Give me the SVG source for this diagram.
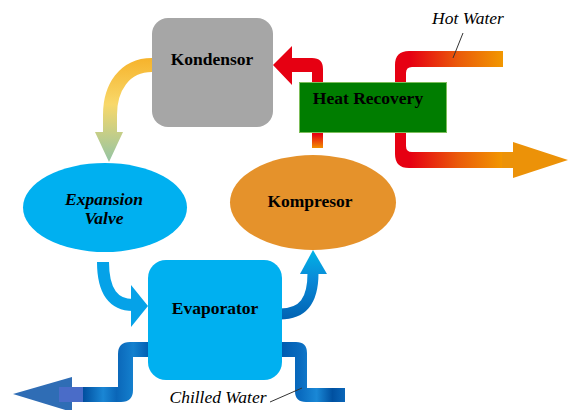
<svg xmlns="http://www.w3.org/2000/svg" width="570" height="410" viewBox="0 0 570 410">
<defs>
<style>
.lbl{font-family:"Liberation Serif","Times New Roman",serif;font-size:17.5px;fill:#000;text-anchor:middle}
.b{font-weight:bold}
.i{font-style:italic}
.lead{stroke:#333;stroke-width:1;fill:none}
</style>
<linearGradient id="gYel" gradientUnits="userSpaceOnUse" x1="0" y1="57" x2="0" y2="162">
<stop offset="0" stop-color="#F6B22A"/><stop offset="0.45" stop-color="#F8D86A"/><stop offset="1" stop-color="#93C4A4"/>
</linearGradient>
<linearGradient id="gHot" gradientUnits="userSpaceOnUse" x1="400" y1="0" x2="505" y2="0">
<stop offset="0.1" stop-color="#E60012"/><stop offset="0.55" stop-color="#EA5A0A"/><stop offset="1" stop-color="#F29A00"/>
</linearGradient>
<linearGradient id="gRed" gradientUnits="userSpaceOnUse" x1="0" y1="134" x2="0" y2="149">
<stop offset="0" stop-color="#E60012"/><stop offset="1" stop-color="#F29A00"/>
</linearGradient>
<linearGradient id="gUp" gradientUnits="userSpaceOnUse" x1="0" y1="322" x2="0" y2="250">
<stop offset="0" stop-color="#0060B0"/><stop offset="0.6" stop-color="#0A8AD8"/><stop offset="1" stop-color="#00B4E6"/>
</linearGradient>
<linearGradient id="gPipeL" gradientUnits="userSpaceOnUse" x1="83" y1="0" x2="150" y2="0">
<stop offset="0" stop-color="#004E9E"/><stop offset="0.3" stop-color="#1A86D4"/><stop offset="0.5" stop-color="#0A66B8"/><stop offset="0.75" stop-color="#1480CE"/><stop offset="1" stop-color="#005CB0"/>
</linearGradient>
<linearGradient id="gPipeR" gradientUnits="userSpaceOnUse" x1="282" y1="0" x2="345" y2="0">
<stop offset="0" stop-color="#005CB0"/><stop offset="0.3" stop-color="#0A6CC0"/><stop offset="0.55" stop-color="#1A88D6"/><stop offset="0.8" stop-color="#0050A0"/><stop offset="1" stop-color="#0A66B8"/>
</linearGradient>
</defs>

<g id="connectors">
<g id="arrow-kondensor-expansion">
<path d="M152,65 C124,65 110,88 110,115 L110,133" fill="none" stroke="url(#gYel)" stroke-width="14"/>
<polygon points="95,132 123,132 109,162" fill="url(#gYel)"/>
</g>
<g id="arrow-heatrecovery-kondensor">
<path d="M323,148 L323,69 Q323,58 312,58 L292,58 L292,46 L273,65 L292,85 L292,72 L312,72 L312,148 Z" fill="url(#gRed)"/>
</g>
<g id="hot-water-pipe">
<path d="M503,51 L409,51 Q395,51 395,65 L395,154 Q395,168 409,168 L503,168 L503,152 L412,152 Q406,152 406,146 L406,73 Q406,67 412,67 L503,67 Z" fill="url(#gHot)"/>
<rect x="502" y="152" width="12" height="16" fill="#EC9208"/>
<polygon points="513,142 568,160 513,178" fill="#EC9208"/>
</g>
<g id="arrow-expansion-evaporator">
<path d="M103,262 C103,292 114,305 133,305" fill="none" stroke="#05A2E8" stroke-width="12"/>
<polygon points="131,285 148,306 131,327" fill="#05A2E8"/>
</g>
<g id="arrow-evaporator-kompresor">
<path d="M280,314 C304,314 313,300 313,273" fill="none" stroke="url(#gUp)" stroke-width="11"/>
<polygon points="300,274 327,274 313,250" fill="url(#gUp)"/>
</g>
<g id="chilled-water-pipes">
<path d="M150,342 L130,342 Q118,342 118,354 L118,387 L83,387 L83,402 L121,402 Q133,402 133,390 L133,357 L150,357 Z" fill="url(#gPipeL)"/>
<polygon points="72,377 13,394 72,412" fill="#2F6DB5"/>
<rect x="59" y="387" width="24" height="15" fill="#4A6CC8"/>
<path d="M280,342 L296,342 Q307,342 307,353 L307,388 L345,388 L345,402 L306,402 Q295,402 295,391 L295,357 L280,357 Z" fill="url(#gPipeR)"/>
</g>
<line class="lead" x1="463" y1="33" x2="453" y2="58"/>
<line class="lead" x1="270" y1="402" x2="302" y2="388"/>
</g>

<g id="kondensor">
<rect x="152" y="18" width="121" height="109" rx="16" fill="#A6A6A6"/>
<text class="lbl b" x="212" y="65">Kondensor</text>
</g>
<g id="heat-recovery">
<rect x="299.5" y="82.5" width="147" height="50" fill="#007D00" stroke="#7DBE5B" stroke-width="1"/>
<text class="lbl b" x="368" y="104">Heat Recovery</text>
</g>
<g id="expansion-valve">
<ellipse cx="105" cy="207.5" rx="82" ry="44.5" fill="#00B0F0"/>
<text class="lbl b i" x="104" y="205">Expansion</text>
<text class="lbl b i" x="104" y="224">Valve</text>
</g>
<g id="kompresor">
<ellipse cx="313" cy="202.5" rx="83" ry="47.5" fill="#E5922B"/>
<text class="lbl b" x="310" y="207">Kompresor</text>
</g>
<g id="evaporator">
<rect x="148" y="260" width="134" height="120" rx="18" fill="#00B0F0"/>
<text class="lbl b" x="215" y="314">Evaporator</text>
</g>
<g id="labels">
<text class="lbl i" x="468" y="24">Hot Water</text>
<text class="lbl i" x="218" y="403">Chilled Water</text>
</g>
</svg>
